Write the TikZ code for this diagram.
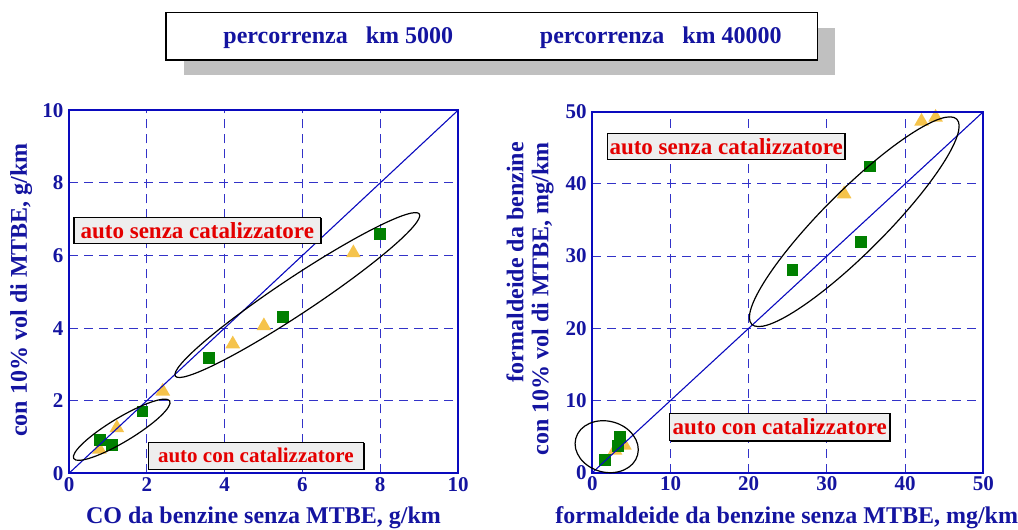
\documentclass[tikz,border=0pt]{standalone}
\usepackage{fontspec}
\setmainfont{Liberation Serif}
\usetikzlibrary{shapes.geometric,shadows}

\definecolor{navy}{RGB}{20,20,160}
\definecolor{gridblue}{RGB}{50,50,200}
\definecolor{diagblue}{RGB}{10,10,190}
\definecolor{markgreen}{RGB}{0,128,0}
\definecolor{markyellow}{RGB}{245,195,75}
\definecolor{labelred}{RGB}{228,0,0}
\definecolor{labelgray}{RGB}{238,238,238}
\definecolor{shadowgray}{RGB}{192,192,192}

\begin{document}
\begin{tikzpicture}[x=1pt, y=1pt,
    plotframe/.style={draw=diagblue, line width=1.8pt},
    gridline/.style={draw=gridblue, line width=1.1pt, dash pattern=on 9pt off 6pt},
    diag/.style={draw=diagblue, line width=1.1pt},
    sq/.style={rectangle, fill=markgreen, minimum size=11.7pt, inner sep=0pt},
    tri/.style={regular polygon, regular polygon sides=3, fill=markyellow,
        minimum size=17pt, inner sep=0pt},
    ring/.style={ellipse, draw=black, line width=1.2pt, inner sep=0pt},
    ticklbl/.style={text=navy, font=\fontsize{21}{21}\selectfont\bfseries, inner sep=0pt},
    axtitle/.style={text=navy, font=\fontsize{24}{25}\selectfont\bfseries, inner sep=0pt},
    notebox/.style={draw=black, line width=1.2pt, fill=labelgray, text=labelred,
        font=\fontsize{23}{23}\selectfont\bfseries, inner sep=0pt,
        drop shadow={shadow xshift=1.2pt, shadow yshift=-1.2pt, fill=black, opacity=1}},
    legendbox/.style={draw=black, line width=1.5pt, fill=white,
        drop shadow={shadow xshift=17.5pt, shadow yshift=-15pt, fill=shadowgray, opacity=1}}
]
    \useasboundingbox (0,0) rectangle (1018,530);

    \node[legendbox, minimum width=651.7pt, minimum height=47.3pt] (legend) at (491.85,493.65) {};
    \node[axtitle, anchor=base] (km5) at (338.3,486.7) {percorrenza\ \ \ km 5000};
    \node[axtitle, anchor=base] (km40) at (660.8,486.7) {percorrenza\ \ \ km 40000};

    \begin{scope}[shift={(69pt,56.7pt)}, x=38.9pt, y=36.3pt]
        \foreach \v in {2,4,6,8} {
            \draw[gridline] (\v,0) -- (\v,10);
            \draw[gridline] (0,\v) -- (10,\v);
        }
        \foreach \v in {0,2,...,10} {
            \node[ticklbl, anchor=east] (ly\v) at ([xshift=-5.5pt]0,\v) {\v};
            \node[ticklbl, anchor=north] (lx\v) at ([yshift=-4pt]\v,0) {\v};
        }
        \node[axtitle] (lxt) at (5,-1.22) {CO da benzine senza MTBE, g/km};
        \node[axtitle, rotate=90] (lyt) at (-1.23,5.05) {con 10\% vol di MTBE, g/km};

        \node[tri] (lt1) at (0.78,0.66) {};
        \node[tri] (lt2) at (1.23,1.25) {};
        \node[tri] (lt3) at (2.41,2.26) {};
        \node[tri] (lt4) at (4.21,3.56) {};
        \node[tri] (lt5) at (5.01,4.06) {};
        \node[tri] (lt6) at (7.31,6.07) {};
        \node[sq] (ls1) at (0.80,0.92) {};
        \node[sq] (ls2) at (1.10,0.78) {};
        \node[sq] (ls3) at (1.89,1.70) {};
        \node[sq] (ls4) at (3.60,3.18) {};
        \node[sq] (ls5) at (5.50,4.31) {};
        \node[sq] (ls6) at (7.99,6.60) {};

        \draw[diag] (0,0) -- (10,10);
        \draw[plotframe] (0,0) rectangle (10,10);

        \node[ring, minimum width=293pt, minimum height=36pt, rotate=33.6] (lbig) at (5.87,4.91) {};
        \node[ring, minimum width=112pt, minimum height=24pt, rotate=31] (lsmall) at (1.355,1.2) {};
    \end{scope}

    \begin{scope}[shift={(592.3pt,57.3pt)}, x=7.82pt, y=7.22pt]
        \foreach \v in {10,20,30,40} {
            \draw[gridline] (\v,0) -- (\v,50);
            \draw[gridline] (0,\v) -- (50,\v);
        }
        \foreach \v in {0,10,...,50} {
            \node[ticklbl, anchor=east] (ry\v) at ([xshift=-5.5pt]0,\v) {\v};
            \node[ticklbl, anchor=north] (rx\v) at ([yshift=-4pt]\v,0) {\v};
        }
        \node[axtitle] (rxt) at (24.86,-6.27) {formaldeide da benzine senza MTBE, mg/km};
        \node[axtitle, rotate=90, align=right, anchor=east] (ryt) at (-7.97,45.8)
            {formaldeide da benzine\\con 10\% vol di MTBE, mg/km};

        \node[tri] (rt1) at (2.9,3.1) {};
        \node[tri] (rt2) at (4.1,3.8) {};
        \node[tri] (rt3) at (32.2,38.6) {};
        \node[tri] (rt4) at (42.1,48.65) {};
        \node[tri] (rt5) at (43.9,49.2) {};
        \node[sq] (rs1) at (1.62,1.76) {};
        \node[sq] (rs2) at (3.32,3.70) {};
        \node[sq] (rs3) at (3.54,4.99) {};
        \node[sq] (rs4) at (25.6,28.07) {};
        \node[sq] (rs5) at (34.36,32.0) {};
        \node[sq] (rs6) at (35.5,42.4) {};

        \draw[diag] (0,0) -- (50,50);
        \draw[plotframe] (0,0) rectangle (50,50);

        \node[ring, minimum width=290pt, minimum height=62pt, rotate=45] (rbig) at (33.5,34.76) {};
        \node[ring, minimum width=64pt, minimum height=51pt, rotate=-15] (rsmall) at (1.84,3.6) {};
    \end{scope}

    \node[notebox, minimum width=246.7pt, minimum height=26pt] (lsenza) at (197.3,299.7) {auto senza catalizzatore};
    \node[notebox, minimum width=215pt, minimum height=27pt, font=\fontsize{21}{21}\selectfont\bfseries] (lcon) at (255.8,74.2) {auto con catalizzatore};
    \node[notebox, minimum width=237.7pt, minimum height=26pt] (rsenza) at (726.2,383.7) {auto senza catalizzatore};
    \node[notebox, minimum width=220.7pt, minimum height=27.4pt] (rcon) at (779.7,103) {auto con catalizzatore};
\end{tikzpicture}
\end{document}
